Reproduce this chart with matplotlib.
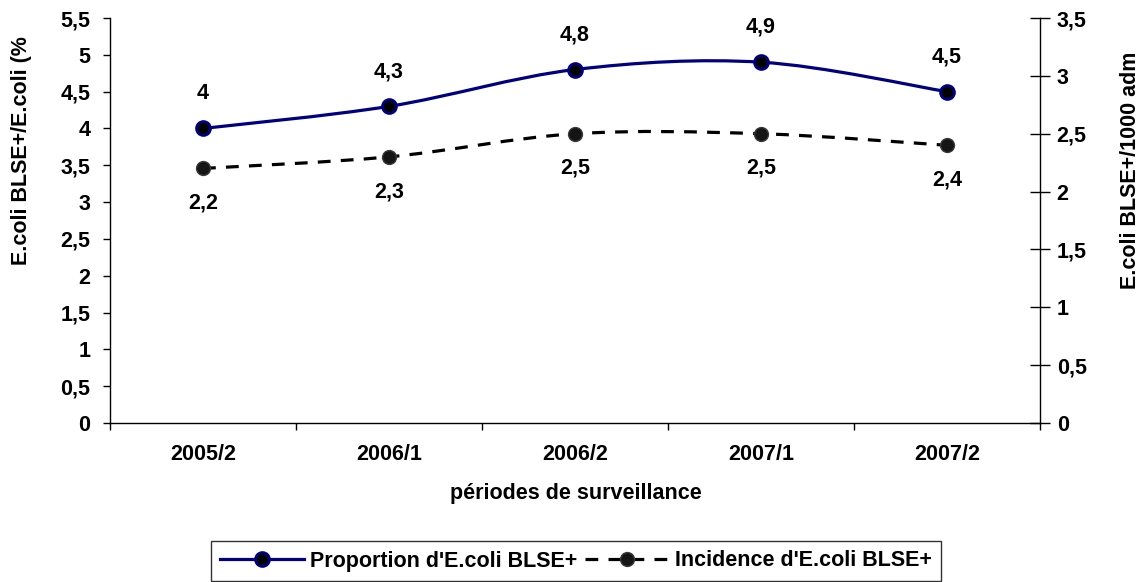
import matplotlib
matplotlib.use('Agg')
import matplotlib.pyplot as plt
from matplotlib.path import Path
from matplotlib.patches import PathPatch
from matplotlib.lines import Line2D
from matplotlib.ticker import FixedLocator, FuncFormatter
import numpy as np

# ---- données ----
periodes    = ['2005/2', '2006/1', '2006/2', '2007/1', '2007/2']
proportion  = [4.0, 4.3, 4.8, 4.9, 4.5]     # % E.coli BLSE+/E.coli
incidence   = [2.2, 2.3, 2.5, 2.5, 2.4]     # E.coli BLSE+/1000 adm
yticks_g    = [0, 0.5, 1, 1.5, 2, 2.5, 3, 3.5, 4, 4.5, 5, 5.5]
yticks_d    = [0, 0.5, 1, 1.5, 2, 2.5, 3, 3.5]

NAVY = '#000080'
plt.rcParams['font.family'] = ['Liberation Sans', 'DejaVu Sans']
plt.rcParams['font.weight'] = 'bold'
FS = 15.5


def virgule(v, pos=None):
    return ('%g' % v).replace('.', ',')


def courbe_lissee(x, y):
    # courbe lissée façon Excel (Bezier type Catmull-Rom)
    pts = np.column_stack([x, y]).astype(float)
    n = len(pts)
    verts = [pts[0]]
    codes = [Path.MOVETO]
    for i in range(n - 1):
        p0 = pts[i - 1] if i > 0 else pts[i]
        p1 = pts[i]
        p2 = pts[i + 1]
        p3 = pts[i + 2] if i + 2 < n else pts[i + 1]
        verts += [p1 + (p2 - p0) / 6, p2 - (p3 - p1) / 6, p2]
        codes += [Path.CURVE4] * 3
    return Path(verts, codes)


fig = plt.figure(figsize=(11.44, 5.82), dpi=100)
W, H = 1144, 582
ax = fig.add_axes([110 / W, 1 - 423 / H, 930 / W, 405 / H])
ax2 = ax.twinx()

x = np.arange(len(periodes))

# proportion (axe gauche)
ax.add_patch(PathPatch(courbe_lissee(x, proportion), fill=False,
                       edgecolor=NAVY, linewidth=2.3, zorder=3))
ax.plot(x, proportion, linestyle='none', marker='o', markersize=10,
        markerfacecolor='black', markeredgecolor=NAVY, markeredgewidth=2, zorder=4)
for xi, v in zip(x, proportion):
    ax.annotate(virgule(v), (xi, v), xytext=(0, 25), textcoords='offset points',
                ha='center', va='center', fontsize=FS, fontweight='bold')

# incidence (axe droit)
ax2.add_patch(PathPatch(courbe_lissee(x, incidence), fill=False,
                        edgecolor='black', linewidth=2.3,
                        linestyle=(0, (4.0, 3.2)), zorder=3))
ax2.plot(x, incidence, linestyle='none', marker='o', markersize=10,
         markerfacecolor='#151515', markeredgecolor='#3a3a3a', markeredgewidth=1, zorder=4)
for xi, v in zip(x, incidence):
    ax2.annotate(virgule(v), (xi, v), xytext=(0, -25), textcoords='offset points',
                 ha='center', va='center', fontsize=FS, fontweight='bold')

# axes
ax.set_xlim(-0.5, len(periodes) - 0.5)
ax.set_ylim(0, 5.5)
ax2.set_ylim(0, 3.5)
ax.set_xticks(x)
ax.set_xticklabels(periodes)
ax.xaxis.set_minor_locator(FixedLocator(np.arange(-0.5, len(periodes), 1.0)))
ax.tick_params(axis='x', which='major', length=0, pad=15, labelsize=FS)
ax.tick_params(axis='x', which='minor', length=5, width=1, direction='out')
ax.set_yticks(yticks_g)
ax.yaxis.set_major_formatter(FuncFormatter(virgule))
ax.tick_params(axis='y', length=5, width=1, direction='out', pad=9, labelsize=FS)
ax2.set_yticks(yticks_d)
ax2.yaxis.set_major_formatter(FuncFormatter(virgule))
ax2.tick_params(axis='y', length=14, width=1, direction='inout', pad=5, labelsize=FS)

for a in (ax, ax2):
    a.spines['top'].set_visible(False)
    for s in a.spines.values():
        s.set_linewidth(1)
ax.spines['right'].set_visible(False)
ax2.spines['left'].set_visible(False)
ax2.spines['bottom'].set_visible(False)

# titres des axes
fig.text(22 / W, 1 - 36 / H, 'E.coli BLSE+/E.coli (%', rotation=90,
         ha='center', va='top', fontsize=FS, fontweight='bold')
fig.text(1130 / W, 1 - 170 / H, 'E.coli BLSE+/1000 adm', rotation=90,
         ha='center', va='center', fontsize=FS, fontweight='bold')
fig.text(576 / W, 1 - 494 / H, 'p\u00e9riodes de surveillance',
         ha='center', va='center', fontsize=FS, fontweight='bold')

# légende
h1 = Line2D([], [], color=NAVY, linewidth=2.3, marker='o', markersize=10,
            markerfacecolor='black', markeredgecolor=NAVY, markeredgewidth=2)
h2 = Line2D([], [], color='black', linewidth=2.3, linestyle=(0, (4.0, 3.2)),
            marker='o', markersize=10, markerfacecolor='#151515',
            markeredgecolor='#3a3a3a', markeredgewidth=1)
leg = fig.legend([h1, h2], ["Proportion d'E.coli BLSE+", "Incidence d'E.coli BLSE+"],
                 loc='center', bbox_to_anchor=(576 / W, 1 - 561 / H), ncol=2,
                 frameon=True, fancybox=False, edgecolor='black', fontsize=FS,
                 handlelength=3.9, handletextpad=0.25, columnspacing=0.4,
                 borderpad=0.45, borderaxespad=0)
leg.get_frame().set_linewidth(1)
for t in leg.get_texts():
    t.set_fontweight('bold')

fig.savefig('out.png', dpi=100)
